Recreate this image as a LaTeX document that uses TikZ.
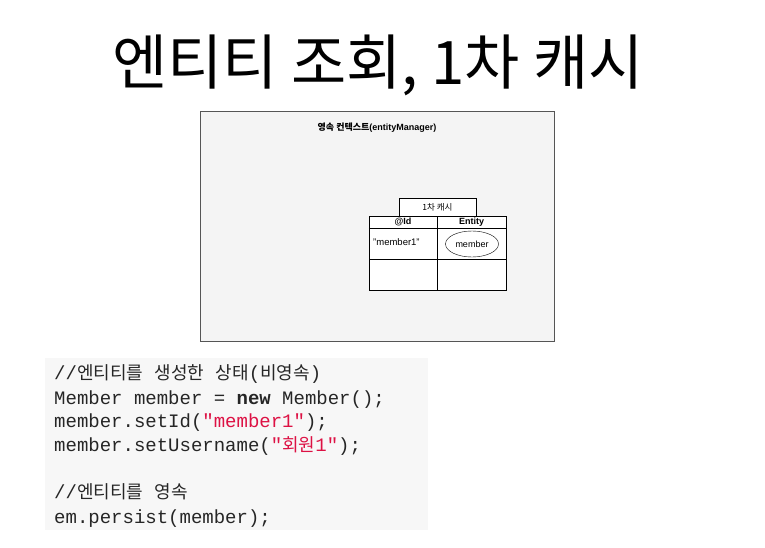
\documentclass[tikz,border=0pt]{standalone}
\usepackage{fontspec}
\usetikzlibrary{shapes.geometric}
\setmainfont{Liberation Sans}
\newfontfamily\kr{Noto Sans CJK KR}
\newfontfamily\codefont{Liberation Mono}
\definecolor{boxfill}{HTML}{F4F4F4}
\definecolor{boxline}{HTML}{555555}
\definecolor{codebg}{HTML}{F7F7F7}
\definecolor{codetext}{HTML}{262626}
\definecolor{codestr}{HTML}{DD1144}
\newcommand{\codestr}[1]{\textcolor{codestr}{#1}}
\newcommand{\krcode}[1]{{\kr\fontsize{18}{18}\selectfont #1}}
\begin{document}
\begin{tikzpicture}[x=1pt, y=-1pt,
  cell/.style={draw, thin, minimum width=68pt, inner sep=0pt},
  code/.style={anchor=base west, inner sep=0pt, font=\codefont\fontsize{19}{19}\selectfont, text=codetext}]
\useasboundingbox (0,0) rectangle (765,548);
% title
\node (title) at (378,65) {\kr\fontsize{60}{60}\selectfont 엔티티 조회, 1차 캐시};
% persistence context
\node[draw=boxline, fill=boxfill, minimum width=354pt, minimum height=230pt, inner sep=0pt] (ctx) at (377,226) {};
\node[font=\bfseries\fontsize{9}{9}\selectfont] (ctxlabel) at (377,128) {{\kr 영속 컨텍스트}(entityManager)};
% 1st level cache
\node[draw, thin, fill=white, minimum width=77pt, minimum height=18pt, inner sep=0pt, font=\kr\fontsize{8.5}{8.5}\selectfont] (cache) at (437.5,207) {1차 캐시};
\node[cell, fill=white, minimum height=12pt, font=\bfseries\fontsize{9}{9}\selectfont] (idh) at (403,222) {@Id};
\node[cell, fill=white, minimum width=69pt, minimum height=12pt, font=\bfseries\fontsize{9}{9}\selectfont] (enth) at (471.5,222) {Entity};
\node[cell, fill=white, minimum height=31pt] (id1) at (403,243.5) {};
\node[cell, fill=white, minimum width=69pt, minimum height=31pt] (ent1) at (471.5,243.5) {};
\node[cell, fill=white, minimum height=31pt] (id2) at (403,274.5) {};
\node[cell, fill=white, minimum width=69pt, minimum height=31pt] (ent2) at (471.5,274.5) {};
\draw[thick] (idh.south west) -- (enth.south east);
\node[anchor=west, inner sep=0pt, font=\fontsize{9.5}{9.5}\selectfont] (key1) at (373,242) {"member1"};
\node[draw, ellipse, minimum width=53pt, minimum height=26pt, inner sep=0pt, font=\fontsize{9}{9}\selectfont] (obj1) at (472,244) {member};
% code
\fill[codebg] (45,358) rectangle (428,530);
\node[code] (l1) at (54,379) {//\krcode{엔티티를} \krcode{생성한} \krcode{상태}(\krcode{비영속})};
\node[code] (l2) at (54,404) {Member member = \textbf{new} Member();};
\node[code] (l3) at (54,427) {member.setId(\codestr{"member1"});};
\node[code] (l4) at (54,451) {member.setUsername(\codestr{"\krcode{회원}1"});};
\node[code] (l5) at (54,498) {//\krcode{엔티티를} \krcode{영속}};
\node[code] (l6) at (54,523) {em.persist(member);};
\end{tikzpicture}
\end{document}
